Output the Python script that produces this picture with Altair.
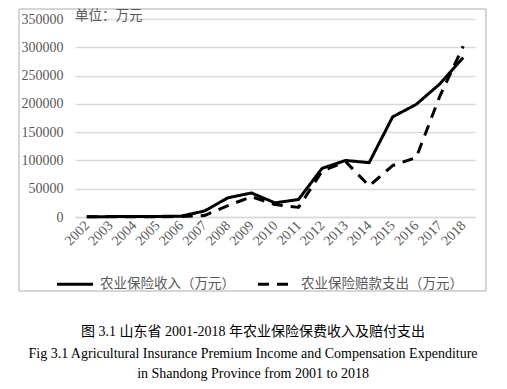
import altair as alt
import pandas as pd

years = [str(y) for y in range(2002, 2019)]
income = [500, 700, 800, 1000, 1500, 10500, 34000, 42500, 25000, 31000,
          86000, 100000, 96000, 177000, 199000, 235000, 282000]
compensation = [300, 400, 500, 600, 800, 2500, 20000, 36000, 22000, 17000,
                81000, 98000, 55000, 91000, 105000, 213000, 302000]
series_names = ["农业保险收入（万元）", "农业保险赔款支出（万元）"]
unit_label = ["单位：万元"]
captions = [
    "图 3.1  山东省 2001-2018 年农业保险保费收入及赔付支出",
    "Fig 3.1 Agricultural Insurance Premium Income and Compensation Expenditure",
    "in Shandong Province from 2001 to 2018",
]
y_ticks = [0, 50000, 100000, 150000, 200000, 250000, 300000, 350000]

FONT = "Liberation Serif, 'Noto Sans CJK SC'"
GRAY = "#595959"
GRID = "#d9d9d9"
FRAME = "#c8c8c8"

df = pd.DataFrame({
    "year": years * 2,
    "value": income + compensation,
    "series": [series_names[0]] * len(years) + [series_names[1]] * len(years),
})

legend = alt.Legend(
    title=None, orient="none", legendX=-20, legendY=245, direction="horizontal",
    symbolType="stroke", symbolSize=1300, symbolStrokeWidth=3,
    labelFontSize=13.5, labelColor=GRAY, labelFont=FONT, labelLimit=400,
    columnPadding=16, labelOffset=5,
)

lines = alt.Chart(df).mark_line(strokeWidth=3, strokeCap="butt", strokeJoin="round").encode(
    x=alt.X("year:O", sort=years, scale=alt.Scale(padding=0.5),
            axis=alt.Axis(title=None, labelAngle=-45, labelAlign="right", labelBaseline="middle",
                          ticks=False, domain=True, domainColor=GRID, domainWidth=1.5, grid=False,
                          labelPadding=6, labelFontSize=14, labelColor=GRAY, labelFont=FONT)),
    y=alt.Y("value:Q", scale=alt.Scale(domain=[0, 350000], nice=False),
            axis=alt.Axis(title=None, values=y_ticks, format="d", ticks=False, domain=False,
                          gridColor=GRID, gridWidth=1.5, labelPadding=12,
                          labelFontSize=14, labelColor=GRAY, labelFont=FONT)),
    color=alt.Color("series:N", sort=series_names,
                    scale=alt.Scale(domain=series_names, range=["black", "black"]), legend=legend),
    strokeDash=alt.StrokeDash("series:N", sort=series_names,
                              scale=alt.Scale(domain=series_names, range=[[1, 0], [11, 8]]), legend=legend),
)

one = pd.DataFrame({"k": [0]})
L, R, T, B = -56, 411, -10, 272


def frame_rule(**enc):
    return alt.Chart(one).mark_rule(color=FRAME, strokeWidth=1.5).encode(
        color=alt.value(FRAME), strokeWidth=alt.value(1.5), **enc
    )


frame_parts = [
    frame_rule(x=alt.value(L), x2=alt.value(R), y=alt.value(T)),
    frame_rule(x=alt.value(L), x2=alt.value(R), y=alt.value(B)),
    frame_rule(x=alt.value(L), y=alt.value(T), y2=alt.value(B)),
    frame_rule(x=alt.value(R), y=alt.value(T), y2=alt.value(B)),
]

unit = alt.Chart(pd.DataFrame({"t": unit_label})).mark_text(
    align="left", baseline="middle", fontSize=13.5, color=GRAY, font=FONT
).encode(text="t:N", x=alt.value(0), y=alt.value(-3))

cap_layers = []
for txt, yy in zip(captions, [313, 335, 355]):
    cap_layers.append(
        alt.Chart(pd.DataFrame({"t": [txt]})).mark_text(
            align="center", baseline="middle", fontSize=14, color="black", font=FONT
        ).encode(text="t:N", x=alt.value(178), y=alt.value(yy))
    )

chart = alt.layer(lines, *frame_parts, unit, *cap_layers).properties(
    width=400, height=198,
    autosize=alt.AutoSizeParams(type="none"),
    padding={"left": 67, "top": 11, "right": 24, "bottom": 164},
    view=alt.ViewBackground(stroke="transparent"),
)

chart.save("out.html", embed_options={"renderer": "svg", "actions": False})
